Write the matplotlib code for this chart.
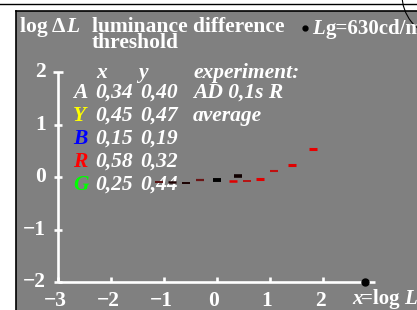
import matplotlib
matplotlib.use("Agg")
import matplotlib.pyplot as plt
from matplotlib.patches import Rectangle, Arc

# threshold marks: log L (x) against log delta L (y)
log_l = [-1.09, -0.85, -0.58, -0.32, 0.0, 0.30, 0.40, 0.56, 0.81, 1.08, 1.42, 1.81]
log_dl = [-0.095, -0.095, -0.11, -0.057, -0.057, -0.076, 0.02, -0.076, -0.038, 0.11, 0.23, 0.53]
mark_colors = ['#5a1414', '#200404', '#1a0000', '#6a1616', '#000000', '#e00000',
               '#100000', '#c00000', '#e00000', '#c01010', '#e00000', '#e80000']
mark_widths = [1.4, 1.8, 1.4, 1.6, 2.8, 1.8, 2.6, 1.2, 2.2, 1.5, 2.2, 2.2]

x_ticks = [-3, -2, -1, 0, 1, 2]
y_ticks = [-2, -1, 0, 1, 2]
x_tick_labels = ['\u22123', '\u22122', '\u22121', '0', '1', '2']
y_tick_labels = ['\u22122', '\u22121', '0', '1', '2']

legend_letters = ['A', 'Y', 'B', 'R', 'G']
legend_colors = ['white', '#ffff00', '#0000ff', '#ff0000', '#00ff00']
legend_x = ['0,34', '0,45', '0,15', '0,58', '0,25']
legend_y = ['0,40', '0,47', '0,19', '0,32', '0,44']
legend_note = ['AD 0,1s R', 'average', '', '', '']

W, H = 417, 310
X0, SX = 217, 53.0     # pixel of x=0, pixels per unit
Y0, SY = 177, 52.5     # pixel of y=0, pixels per unit

plt.rcParams['font.family'] = 'Liberation Serif'
plt.rcParams['font.weight'] = 'bold'

fig = plt.figure(figsize=(W / 100, H / 100), dpi=100)
fig.patch.set_facecolor('white')
ax = fig.add_axes([0, 0, 1, 1])
ax.set_xlim(-X0 / SX, (W - X0) / SX)
ax.set_ylim((Y0 - H) / SY, Y0 / SY)
ax.axis('off')


def fp(x, y):
    return x / W, 1 - y / H


# background panel and frame
ax.add_patch(Rectangle(fp(16, H), (W - 16) / W, (H - 11) / H, transform=ax.transAxes,
                       facecolor='#808080', edgecolor='none', zorder=0))
ax.plot([16 / W, 16 / W], [0, 1 - 11 / H], transform=ax.transAxes, color='black', lw=1.2)
ax.plot([16 / W, 1], [1 - 11 / H, 1 - 11 / H], transform=ax.transAxes, color='black', lw=1.2)
ax.plot([0, 1], [1 - 3.5 / H, 1 - 3.5 / H], transform=ax.transAxes, color='black', lw=1.0)
ax.add_patch(Arc(fp(445, -5), 86 / W, 86 / H, transform=ax.transAxes, theta1=180, theta2=260,
                 color='black', lw=0.8))

# axes lines
wl = 1.9
ax.plot([-3, 2.98], [-2, -2], color='white', lw=wl, solid_capstyle='butt', zorder=3)
ax.plot([-3, -3], [-2, 2], color='white', lw=wl, solid_capstyle='butt', zorder=3)
for t in x_ticks:
    ax.plot([t, t], [-2, -2 + 5 / SY], color='white', lw=wl, solid_capstyle='butt', zorder=3)
for t in y_ticks:
    half = 5 if t == 2 else 4
    ax.plot([-3 - half / SX, -3 + half / SX], [t, t], color='white', lw=wl,
            solid_capstyle='butt', zorder=3)

for t, lab in zip(x_ticks, x_tick_labels):
    ax.text(t - 3 / SX, -2 - 9 / SY, lab, color='white', fontsize=15.5, ha='center', va='top')
for t, lab in zip(y_ticks, y_tick_labels):
    ax.text(-3 - 12 / SX, t, lab, color='white', fontsize=15.5, ha='right', va='center')

# end point dots
ax.plot([2.8], [-2], 'o', color='black', ms=5, zorder=4)
ax.plot([(305 - X0) / SX], [(Y0 - 28) / SY], 'o', color='black', ms=3.5, zorder=4)

# titles
tkw = dict(transform=ax.transAxes, color='white', fontsize=15.5, va='baseline', ha='left')
ax.text(*fp(20, 32), 'log \u0394', **tkw)
ax.text(*fp(66, 32), 'L', style='italic', **tkw)
ax.text(*fp(92, 32), 'luminance difference', **tkw)
ax.text(*fp(92, 48), 'threshold', **tkw)
ax.text(*fp(312, 34), 'L', style='italic', **dict(tkw, fontsize=15))
ax.text(*fp(326, 34), 'g=630cd/m\u00b2', **dict(tkw, fontsize=15))
ax.text(*fp(352, 304), 'x', style='italic', **dict(tkw, fontsize=15))
ax.text(*fp(361, 304), '=log', **dict(tkw, fontsize=15))
ax.text(*fp(404, 304), 'L', style='italic', **dict(tkw, fontsize=15))

# legend block
lkw = dict(transform=ax.transAxes, fontsize=15.5, va='baseline', ha='left', style='italic')
ax.text(*fp(96, 78), 'x', color='white', **lkw)
ax.text(*fp(138, 78), 'y', color='white', **lkw)
ax.text(*fp(193, 78), 'experiment:', color='white', **lkw)
for i in range(len(legend_letters)):
    yb = 98 + 23 * i
    ax.text(*fp(73, yb), legend_letters[i], color=legend_colors[i], **lkw)
    ax.text(*fp(95, yb), legend_x[i], color='white', **lkw)
    ax.text(*fp(140, yb), legend_y[i], color='white', **lkw)
    if legend_note[i]:
        ax.text(*fp(193, yb), legend_note[i], color='white', **lkw)

# threshold marks
for x, y, c, w in zip(log_l, log_dl, mark_colors, mark_widths):
    ax.hlines(y, x - 0.075, x + 0.075, color=c, lw=w, zorder=5)

fig.savefig('out.png', dpi=100, facecolor='white')
